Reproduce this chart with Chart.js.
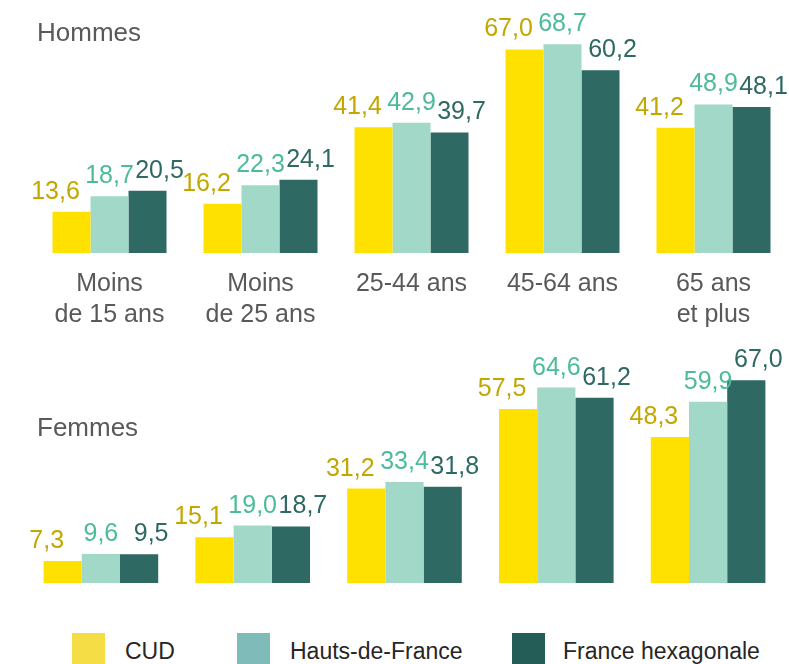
<!DOCTYPE html>
<html>
<head>
<meta charset="utf-8">
<script src="https://cdn.jsdelivr.net/npm/chart.js@4/dist/chart.umd.min.js"></script>
<style>
  body { margin: 0; width: 789px; height: 664px; overflow: hidden; background: #fff; position: relative;
         font-family: "Liberation Sans", Arial, sans-serif; }
  .bloc { position: absolute; left: 0; width: 789px; }
  #blocHommes { top: 0; height: 346px; }
  #blocFemmes { top: 330px; height: 260px; }
  .titre { position: absolute; left: 37px; font-size: 26px; line-height: 26px; color: #595959; z-index: 2; }
  .carre { position: absolute; top: 633px; width: 33px; height: 33px; }
  .nom { position: absolute; top: 638px; font-size: 23px; line-height: 26px; color: #262626; white-space: nowrap; }
</style>
</head>
<body>
<div class="titre" style="top:19px">Hommes</div>
<div class="titre" style="top:414px">Femmes</div>
<div class="bloc" id="blocHommes"><canvas id="hommes" width="789" height="346"></canvas></div>
<div class="bloc" id="blocFemmes"><canvas id="femmes" width="789" height="260"></canvas></div>
<div id="legende"></div>

<script>
// tranches d'âge
const categories = [['Moins', 'de 15 ans'], ['Moins', 'de 25 ans'], '25-44 ans', '45-64 ans', ['65 ans', 'et plus']];
const territoires = ['CUD', 'Hauts-de-France', 'France hexagonale'];

// taux par tranche d'âge
const hommesCUD = [13.6, 16.2, 41.4, 67.0, 41.2];
const hommesHDF = [18.7, 22.3, 42.9, 68.7, 48.9];
const hommesFrance = [20.5, 24.1, 39.7, 60.2, 48.1];

const femmesCUD = [7.3, 15.1, 31.2, 57.5, 48.3];
const femmesHDF = [9.6, 19.0, 33.4, 64.6, 59.9];
const femmesFrance = [9.5, 18.7, 31.8, 61.2, 67.0];

const couleursBarres = ['#FFE100', '#A2D8C7', '#2E6964'];
const couleursTextes = ['#C2A700', '#4DBB9B', '#2E6964'];
const couleursLegende = ['#F5DE45', '#7FBBB8', '#245C58'];
const decalage = [-16, 0, 12];

const etiquettes = {
  id: 'etiquettes',
  afterDatasetsDraw(chart) {
    const ctx = chart.ctx;
    ctx.save();
    ctx.font = '25px "Liberation Sans", Arial, sans-serif';
    ctx.textAlign = 'center';
    ctx.textBaseline = 'alphabetic';
    chart.data.datasets.forEach((ds, i) => {
      chart.getDatasetMeta(i).data.forEach((bar, j) => {
        ctx.fillStyle = couleursTextes[i];
        ctx.fillText(ds.data[j].toFixed(1).replace('.', ','), bar.x + decalage[i], bar.y - 13);
      });
    });
    ctx.restore();
  }
};

function graphique(canvas, series, avecAxe, padding) {
  return new Chart(canvas, {
    type: 'bar',
    data: {
      labels: categories,
      datasets: series.map((s, i) => ({
        label: territoires[i],
        data: s,
        backgroundColor: couleursBarres[i],
        borderWidth: 0,
        categoryPercentage: 0.755,
        barPercentage: 1
      }))
    },
    options: {
      responsive: false,
      animation: false,
      layout: { padding: padding },
      plugins: { legend: { display: false }, tooltip: { enabled: false } },
      scales: {
        x: {
          display: avecAxe,
          grid: { display: false, drawTicks: false },
          border: { display: false },
          ticks: {
            color: '#595959',
            padding: 15.5,
            font: { family: '"Liberation Sans", Arial, sans-serif', size: 25, lineHeight: 1.24 }
          }
        },
        y: { display: false, min: 0, max: 80 }
      }
    },
    plugins: [etiquettes]
  });
}

graphique(document.getElementById('hommes'), [hommesCUD, hommesHDF, hommesFrance], true,
  { left: 34, right: 0, top: 10, bottom: 0 });
graphique(document.getElementById('femmes'), [femmesCUD, femmesHDF, femmesFrance], false,
  { left: 25, right: 5, top: 11, bottom: 7 });

// légende
const positions = [[72, 125], [237, 290], [512, 563]];
const legende = document.getElementById('legende');
territoires.forEach((t, i) => {
  const carre = document.createElement('div');
  carre.className = 'carre';
  carre.style.left = positions[i][0] + 'px';
  carre.style.background = couleursLegende[i];
  legende.appendChild(carre);
  const nom = document.createElement('div');
  nom.className = 'nom';
  nom.style.left = positions[i][1] + 'px';
  nom.textContent = t;
  legende.appendChild(nom);
});
</script>
</body>
</html>
